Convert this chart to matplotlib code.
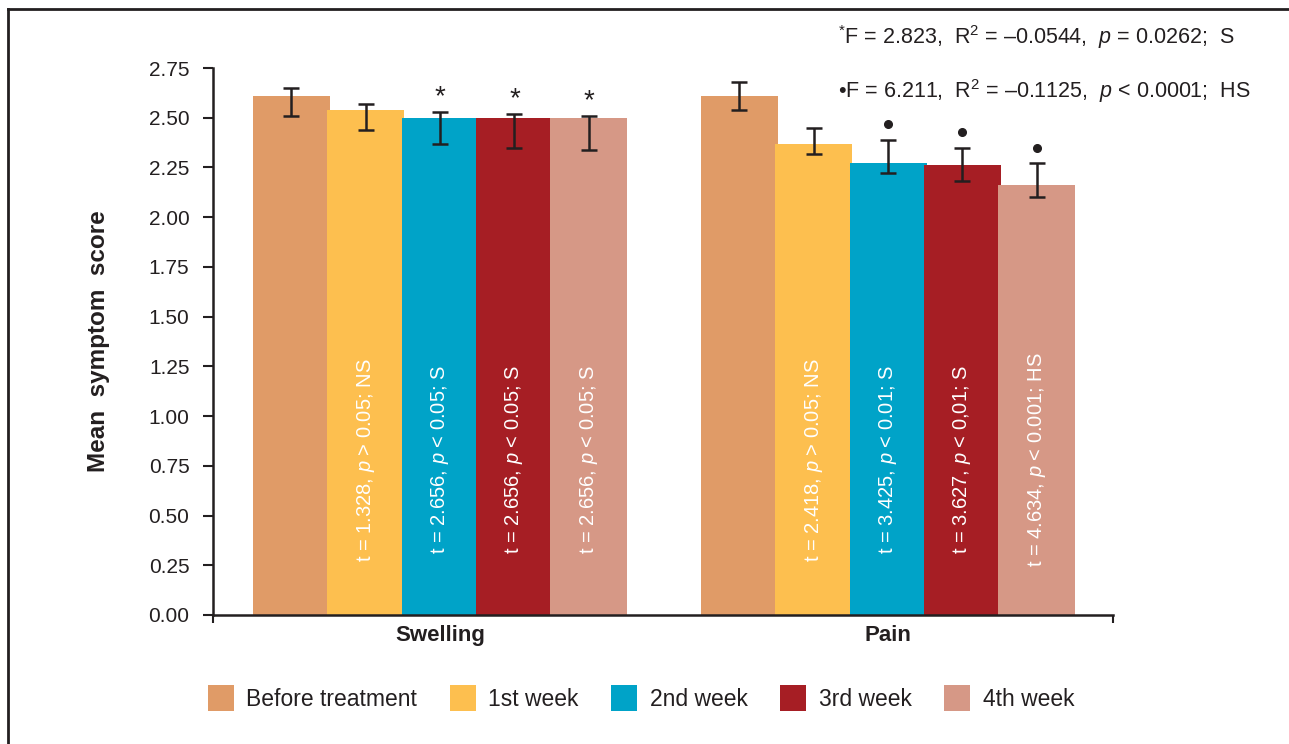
import numpy as np
import matplotlib
matplotlib.use("Agg")
import matplotlib.pyplot as plt
from matplotlib.lines import Line2D

plt.rcParams['font.family'] = ['Liberation Sans', 'DejaVu Sans']
plt.rcParams['mathtext.fontset'] = 'custom'
plt.rcParams['mathtext.rm'] = 'Liberation Sans'
plt.rcParams['mathtext.it'] = 'Liberation Sans:italic'

# Daten
groups = ["Swelling", "Pain"]
periods = ["Before treatment", "1st week", "2nd week", "3rd week", "4th week"]
colors = ["#E09B67", "#FDBF4F", "#00A3C8", "#A61E24", "#D69886"]

swelling_mean = [2.61, 2.54, 2.50, 2.50, 2.50]
swelling_lo = [2.51, 2.44, 2.37, 2.35, 2.34]
swelling_hi = [2.65, 2.57, 2.53, 2.52, 2.51]
pain_mean = [2.61, 2.37, 2.27, 2.26, 2.16]
pain_lo = [2.54, 2.32, 2.22, 2.18, 2.10]
pain_hi = [2.68, 2.45, 2.39, 2.35, 2.27]

swelling_marks = ["", "", "*", "*", "*"]
pain_marks = ["", "", "dot", "dot", "dot"]

swelling_labels = ["", r"t = 1.328, $p$ > 0.05; NS", r"t = 2.656, $p$ < 0.05; S",
                   r"t = 2.656, $p$ < 0.05; S", r"t = 2.656, $p$ < 0.05; S"]
pain_labels = ["", r"t = 2.418, $p$ > 0.05; NS", r"t = 3.425, $p$ < 0.01; S",
               r"t = 3.627, $p$ < 0,01; S", r"t = 4.634, $p$ < 0.001; HS"]

stat_lines = [r"$^{*}$F = 2.823,  R$^2$ = –0.0544,  $p$ = 0.0262;  S",
              r"•F = 6.211,  R$^2$ = –0.1125,  $p$ < 0.0001;  HS"]

yticks = [0.0, 0.25, 0.5, 0.75, 1.0, 1.25, 1.5, 1.75, 2.0, 2.25, 2.5, 2.75]

dark = "#231f20"
fig = plt.figure(figsize=(12.89, 7.44), dpi=100)
ax = fig.add_axes([213 / 1289, 1 - 615 / 744, 900 / 1289, (615 - 68) / 744])

step = 0.166
width = 0.172
data = [(swelling_mean, swelling_lo, swelling_hi, swelling_marks, swelling_labels),
        (pain_mean, pain_lo, pain_hi, pain_marks, pain_labels)]

for g, (mean, lo, hi, marks, labels) in enumerate(data):
    mean = np.array(mean); lo = np.array(lo); hi = np.array(hi)
    xs = g + (np.arange(5) - 2) * step
    for i in range(5):
        ax.bar(xs[i], mean[i], width=width, color=colors[i], zorder=2 + i * 0.01,
               label=periods[i] if g == 0 else None)
    ax.errorbar(xs, mean, yerr=[mean - lo, hi - mean], fmt='none', ecolor=dark,
                elinewidth=1.8, capsize=6, capthick=1.8, zorder=5)
    for i in range(5):
        if marks[i] == "*":
            ax.annotate("*", (xs[i], hi[i]), xytext=(0, 1), textcoords='offset points',
                        ha='center', va='bottom', fontsize=20, color=dark)
        elif marks[i] == "dot":
            ax.plot(xs[i], hi[i] + 0.08, 'o', color=dark, markersize=5.5, zorder=6)
        if labels[i]:
            ax.text(xs[i], 0.78, labels[i], rotation=90, ha='center', va='center',
                    color='white', fontsize=14.5, zorder=6)
    ax.text(g, -0.105, groups[g], ha='center', va='center', fontsize=16,
            fontweight='bold', color=dark)

ax.set_xlim(-0.507, 1.502)
ax.set_ylim(0, 2.75)
ax.set_yticks(yticks)
ax.set_yticklabels([f"{v:.2f}" for v in yticks], fontsize=15, color=dark)
ax.set_xticks([-0.507, 1.502])
ax.set_xticklabels([])
ax.tick_params(axis='y', length=7, width=1.5, pad=10, color=dark)
ax.tick_params(axis='x', length=6, width=1.5, color=dark)
for s in ['top', 'right']:
    ax.spines[s].set_visible(False)
for s in ['left', 'bottom']:
    ax.spines[s].set_linewidth(1.8)
    ax.spines[s].set_color(dark)
ax.set_ylabel("Mean  symptom  score", fontsize=17.5, fontweight='bold', color=dark, labelpad=28)

# Statistik oben rechts
fig.text(838 / 1289, 1 - 37 / 744, stat_lines[0], fontsize=15.5, color=dark, va='center')
fig.text(838 / 1289, 1 - 91 / 744, stat_lines[1], fontsize=15.5, color=dark, va='center')

leg = fig.legend(loc='center', bbox_to_anchor=(641 / 1289, 1 - 698 / 744), ncol=5,
                 frameon=False, fontsize=16.5, handlelength=1.13, handleheight=1.31,
                 handletextpad=0.55, columnspacing=1.42)
for t in leg.get_texts():
    t.set_color(dark)

# Rahmen
fig.add_artist(Line2D([8 / 1289, 8 / 1289], [0, 1 - 9 / 744], color=dark, lw=2))
fig.add_artist(Line2D([8 / 1289, 1], [1 - 9 / 744, 1 - 9 / 744], color=dark, lw=2))

plt.savefig("out.png", dpi=100)
